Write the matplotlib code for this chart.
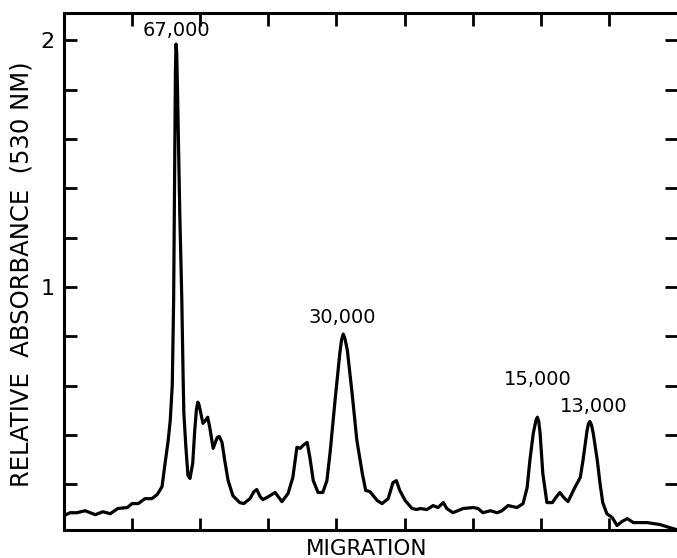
import matplotlib
matplotlib.use("Agg")
import matplotlib.pyplot as plt
import numpy as np

# Densitometer trace (migration units, absorbance at 530 nm)
migration = [0.00, 0.09, 0.19, 0.31, 0.46, 0.57, 0.68, 0.79, 0.93, 1.00, 1.09, 1.19, 1.29, 1.37, 1.44,
             1.48, 1.53, 1.56, 1.59, 1.61, 1.62, 1.627, 1.636, 1.645, 1.655, 1.668, 1.68, 1.70, 1.73, 1.75,
             1.76, 1.79, 1.82, 1.85, 1.89, 1.92, 1.945, 1.965, 1.98, 2.00, 2.04, 2.08, 2.11, 2.14, 2.19,
             2.25, 2.28, 2.32, 2.36, 2.41, 2.48, 2.58, 2.64, 2.73, 2.79, 2.83, 2.88, 2.92, 3.00, 3.10,
             3.20, 3.29, 3.36, 3.42, 3.47, 3.51, 3.57, 3.61, 3.66, 3.73, 3.80, 3.86, 3.91, 3.98, 4.05,
             4.075, 4.10, 4.125, 4.16, 4.23, 4.30, 4.38, 4.43, 4.49, 4.60, 4.67, 4.76, 4.83, 4.88, 4.93,
             5.01, 5.11, 5.18, 5.23, 5.33, 5.42, 5.49, 5.57, 5.62, 5.71, 5.86, 6.01, 6.08, 6.15, 6.26,
             6.36, 6.43, 6.52, 6.65, 6.74, 6.80, 6.84, 6.89, 6.93, 6.95, 6.97, 6.99, 7.03, 7.09, 7.17,
             7.22, 7.28, 7.34, 7.40, 7.50, 7.58, 7.62, 7.68, 7.70, 7.72, 7.745, 7.77, 7.83, 7.87, 7.91,
             7.97, 8.05, 8.12, 8.19, 8.27, 8.36, 8.56, 8.75, 8.90, 9.00]
absorbance = [0.073, 0.085, 0.085, 0.093, 0.077, 0.089, 0.081, 0.102, 0.106, 0.122, 0.122, 0.142, 0.142, 0.159, 0.191,
              0.276, 0.378, 0.459, 0.602, 0.947, 1.300, 1.600, 1.870, 1.984, 1.950, 1.780, 1.600, 1.300, 0.947, 0.622,
              0.488, 0.350, 0.236, 0.224, 0.285, 0.419, 0.505, 0.533, 0.525, 0.500, 0.447, 0.460, 0.472, 0.431, 0.346,
              0.390, 0.394, 0.370, 0.297, 0.215, 0.154, 0.126, 0.122, 0.142, 0.171, 0.179, 0.150, 0.138, 0.150, 0.167,
              0.130, 0.163, 0.228, 0.350, 0.346, 0.358, 0.370, 0.309, 0.215, 0.167, 0.167, 0.215, 0.337, 0.541, 0.732,
              0.785, 0.809, 0.790, 0.744, 0.569, 0.378, 0.244, 0.175, 0.171, 0.134, 0.122, 0.142, 0.207, 0.215, 0.175,
              0.134, 0.102, 0.098, 0.102, 0.098, 0.114, 0.106, 0.126, 0.102, 0.085, 0.102, 0.106, 0.102, 0.085, 0.093,
              0.085, 0.093, 0.114, 0.106, 0.122, 0.187, 0.297, 0.407, 0.460, 0.472, 0.455, 0.407, 0.244, 0.126, 0.126,
              0.146, 0.167, 0.146, 0.130, 0.187, 0.228, 0.297, 0.419, 0.445, 0.455, 0.440, 0.407, 0.297, 0.203, 0.126,
              0.081, 0.065, 0.033, 0.049, 0.061, 0.045, 0.045, 0.037, 0.024, 0.016]

peak_labels = ["67,000", "30,000", "15,000", "13,000"]
peak_label_x = [1.65, 4.08, 6.95, 7.77]
peak_label_y = [2.04, 0.875, 0.625, 0.515]

ytick_vals = [1, 2]
yminor_vals = [0.2, 0.4, 0.6, 0.8, 1.2, 1.4, 1.6, 1.8]
xtick_vals = [1, 2, 3, 4, 5, 6, 7, 8]

fig = plt.figure(figsize=(6.77, 5.58), dpi=100)
ax = fig.add_axes([0.0945, 0.0502, 0.9055, 0.9265])

ax.plot(migration, absorbance, color="black", lw=2.3, solid_joinstyle="round", solid_capstyle="round")

ax.set_xlim(0, 9)
ax.set_ylim(0.015, 2.11)

for s in ["left", "bottom", "top"]:
    ax.spines[s].set_linewidth(2.2)
ax.spines["right"].set_visible(False)

ax.set_xticks(xtick_vals)
ax.set_xticklabels([])
ax.set_yticks(ytick_vals)
ax.set_yticklabels(["1", "2"])
ax.set_yticks(yminor_vals, minor=True)

ax.tick_params(axis="x", which="both", direction="in", length=9, width=2, top=True, bottom=True)
ax.tick_params(axis="y", which="both", direction="in", length=9, width=2, left=True, right=True)
ax.tick_params(axis="y", which="major", labelsize=16, pad=7)

for lab, x, y in zip(peak_labels, peak_label_x, peak_label_y):
    ax.text(x, y, lab, ha="center", va="center", fontsize=14, family="DejaVu Sans")

ax.set_xlabel("MIGRATION", fontsize=15.5, va="baseline")
ax.xaxis.set_label_coords(0.493, -0.049)
ax.set_ylabel("RELATIVE  ABSORBANCE  (530 NM)", fontsize=17.5)
ax.yaxis.set_label_coords(-0.05, 0.495)

fig.savefig("out.png", dpi=100)
